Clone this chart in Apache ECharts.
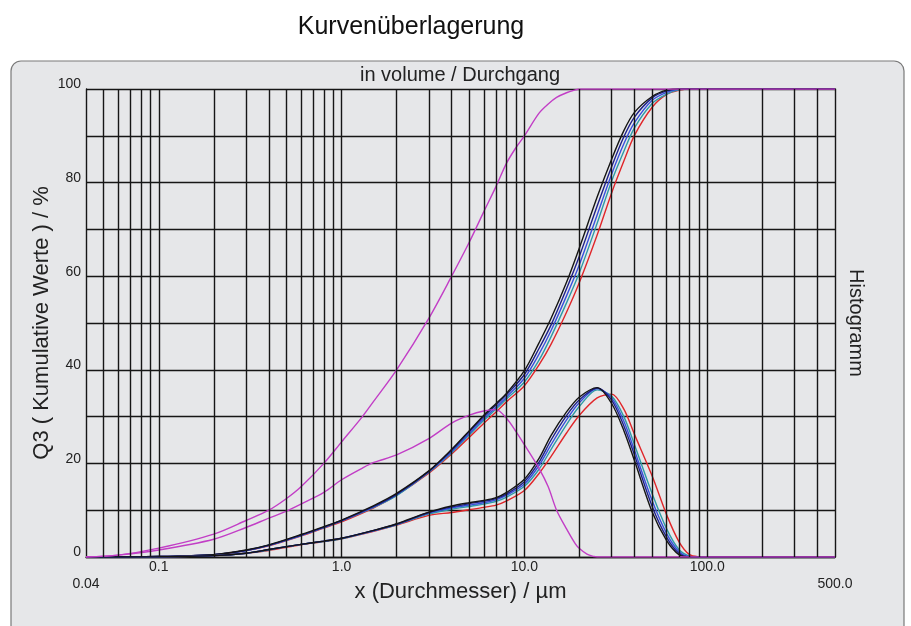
<!DOCTYPE html>
<html><head><meta charset="utf-8">
<script src="https://cdn.jsdelivr.net/npm/echarts@6/dist/echarts.min.js"></script>
<style>html,body{margin:0;padding:0;background:#fff}#c{width:911px;height:626px}</style>
</head><body><div id="c"></div>
<script>
// shared x grid (µm) for the five measurement curves
const xs = [0.04, 0.1, 0.2, 0.3, 0.4, 0.6, 0.8, 1, 1.5, 2, 3, 4, 5, 6, 7, 8, 10, 12, 14, 17, 20, 25, 30, 35, 40, 50, 60, 70, 80, 90, 100, 500];
// cumulative Q3 (%)
const cumBlack = [0, 0.1, 0.5, 1.5, 2.6, 4.8, 6.5, 7.9, 11.0, 13.6, 18.4, 23.0, 27.0, 30.3, 32.8, 35.0, 39.8, 45.7, 51.0, 58.7, 66.1, 76.9, 85.0, 91.1, 95.0, 98.4, 99.75, 100, 100, 100, 100, 100];
const cumNavy  = [0, 0.1, 0.5, 1.4, 2.5, 4.7, 6.4, 7.8, 10.8, 13.4, 18.3, 22.8, 26.8, 30.0, 32.5, 34.7, 39.0, 44.5, 49.6, 57.3, 64.3, 75.0, 83.4, 89.8, 94.0, 98.1, 99.6, 100, 100, 100, 100, 100];
const cumBlue  = [0, 0.1, 0.5, 1.4, 2.5, 4.6, 6.3, 7.7, 10.7, 13.3, 18.2, 22.5, 26.4, 29.6, 32.0, 34.2, 38.2, 43.3, 48.4, 55.8, 62.5, 73.1, 81.8, 88.3, 92.8, 97.6, 99.3, 99.95, 100, 100, 100, 100];
const cumTeal  = [0, 0.1, 0.5, 1.4, 2.5, 4.6, 6.3, 7.7, 10.6, 13.1, 18.1, 22.3, 26.1, 29.2, 31.6, 33.8, 37.4, 42.0, 47.1, 54.3, 60.8, 71.3, 80.3, 86.7, 91.7, 96.9, 98.9, 99.8, 100, 100, 100, 100];
const cumRed   = [0, 0.1, 0.5, 1.4, 2.4, 4.5, 6.2, 7.5, 10.5, 13.2, 17.9, 22.0, 25.6, 28.6, 31.0, 33.2, 36.6, 41.0, 45.5, 52.3, 58.7, 68.8, 77.8, 84.6, 90.1, 96.1, 98.85, 99.7, 100, 100, 100, 100];
// histogram (density) curves
const histBlack = [0, 0.05, 0.3, 0.8, 1.6, 2.7, 3.4, 4.0, 5.7, 7.1, 9.6, 10.9, 11.6, 12.1, 12.7, 13.8, 16.6, 21.0, 26.0, 31.0, 34.2, 36.2, 32.8, 27.0, 20.6, 9.6, 3.5, 0.5, 0, 0, 0, 0];
const histNavy  = [0, 0.05, 0.3, 0.8, 1.6, 2.7, 3.4, 4.0, 5.7, 7.0, 9.5, 10.7, 11.4, 11.9, 12.5, 13.5, 16.1, 20.2, 25.0, 30.2, 33.6, 36.1, 33.5, 28.0, 21.8, 10.8, 4.2, 0.8, 0, 0, 0, 0];
const histBlue  = [0, 0.05, 0.3, 0.8, 1.6, 2.7, 3.4, 4.0, 5.6, 7.0, 9.4, 10.5, 11.1, 11.6, 12.2, 13.2, 15.6, 19.5, 24.0, 29.3, 33.0, 36.0, 34.0, 29.0, 22.8, 12.0, 5.0, 1.2, 0.1, 0, 0, 0];
const histTeal  = [0, 0.05, 0.3, 0.8, 1.5, 2.7, 3.3, 3.9, 5.6, 6.9, 9.2, 10.2, 10.8, 11.3, 11.9, 12.8, 15.1, 18.7, 23.0, 28.3, 32.2, 35.7, 34.4, 30.0, 24.0, 13.5, 6.0, 1.6, 0.2, 0, 0, 0];
const histRed   = [0, 0.05, 0.3, 0.8, 1.4, 2.6, 3.3, 3.9, 5.5, 6.8, 8.9, 9.5, 10.1, 10.6, 11.1, 12.0, 14.2, 17.8, 21.5, 26.5, 30.3, 34.0, 34.8, 31.6, 26.2, 17.3, 9.0, 3.3, 0.5, 0.05, 0, 0];
// magenta (fine) sample
const magX    = [0.04, 0.06, 0.1, 0.2, 0.3, 0.4, 0.5, 0.6, 0.8, 1, 1.3, 1.5, 2, 3, 4, 5, 6, 7, 8, 9, 10, 12, 13.5, 15, 17, 19, 20, 22, 24, 25, 500];
const magCum  = [0, 0.4, 1.9, 4.9, 7.8, 10.0, 12.5, 15.0, 20.0, 24.6, 30.0, 33.3, 40.0, 51.0, 60.0, 67.3, 73.8, 79.2, 84.2, 87.5, 90.0, 94.8, 96.8, 98.2, 99.2, 99.8, 100, 100, 100, 100, 100];
const magHist = [0, 0.4, 1.5, 3.8, 6.3, 8.3, 9.8, 11.3, 13.8, 16.5, 19.0, 20.2, 21.8, 25.3, 28.6, 30.3, 31.2, 31.5, 29.6, 26.8, 24.0, 19.0, 15.0, 10.0, 6.0, 2.8, 1.8, 0.6, 0.1, 0, 0];
// axes
const gridX = [0.05,0.06,0.07,0.08,0.09,0.1,0.2,0.3,0.4,0.5,0.6,0.7,0.8,0.9,1,2,3,4,5,6,7,8,9,10,20,30,40,50,60,70,80,90,100,200,300,400];
const xTickValues = [0.04, 0.1, 1, 10, 100, 500];
const xTickLabels = ['0.04', '0.1', '1.0', '10.0', '100.0', '500.0'];
const yTickValues = [0, 20, 40, 60, 80, 100];

const FONT = '"Liberation Sans", Arial, sans-serif';
const TXT = '#222';
const GRIDC = '#161616';
function pairs(x, y) { return x.map((v, i) => [v, y[i]]); }

const curves = [
  { x: xs, y: cumRed, c: '#e0262a' }, { x: xs, y: cumTeal, c: '#2f9aa6' },
  { x: xs, y: cumBlue, c: '#3850dc' }, { x: xs, y: cumNavy, c: '#1e2088' },
  { x: xs, y: cumBlack, c: '#151515' },
  { x: xs, y: histRed, c: '#e0262a' }, { x: xs, y: histTeal, c: '#2f9aa6' },
  { x: xs, y: histBlue, c: '#3850dc' }, { x: xs, y: histNavy, c: '#1e2088' },
  { x: xs, y: histBlack, c: '#151515' },
  { x: magX, y: magCum, c: '#c23ec6' }, { x: magX, y: magHist, c: '#c23ec6' }
];

const series = [{
  type: 'line', data: [[0.04, 0]], symbol: 'none', lineStyle: { opacity: 0 }, z: 1, silent: true,
  markLine: {
    silent: true, animation: false, symbol: ['none', 'none'], label: { show: false },
    emphasis: { disabled: true },
    lineStyle: { color: GRIDC, width: 1.4, type: 'solid' },
    data: gridX.map(v => ({ xAxis: v }))
  }
}].concat(curves.map(s => ({
  type: 'line', data: pairs(s.x, s.y), symbol: 'none', showSymbol: false, smooth: 0.3,
  lineStyle: { color: s.c, width: 1.4 }, itemStyle: { color: s.c }, z: 3, silent: true
})));

function xLabel(v) {
  for (let i = 0; i < xTickValues.length; i++) {
    if (Math.abs(v - xTickValues[i]) / xTickValues[i] < 1e-6) {
      return (i === 0 || i === xTickValues.length - 1) ? '\n' + xTickLabels[i] : xTickLabels[i];
    }
  }
  return '';
}

const chart = echarts.init(document.getElementById('c'), null, { renderer: 'canvas' });
chart.setOption({
  animation: false,
  backgroundColor: '#ffffff',
  textStyle: { fontFamily: FONT },
  graphic: { elements: [
    { type: 'rect', z: -100, shape: { x: 11, y: 61, width: 893, height: 600, r: 10 },
      style: { fill: '#e6e7e9', stroke: '#7a7a7a', lineWidth: 1.2 } },
    { type: 'text', z: 10, style: { x: 411, y: 27, text: 'Kurvenüberlagerung', textAlign: 'center', textVerticalAlign: 'middle', font: '25px ' + FONT, fill: '#111' } },
    { type: 'text', z: 10, style: { x: 460, y: 75, text: 'in volume / Durchgang', textAlign: 'center', textVerticalAlign: 'middle', font: '20px ' + FONT, fill: TXT } }
  ] },
  grid: { left: 86, right: 76, top: 89, bottom: 69, containLabel: false },
  xAxis: {
    type: 'log', logBase: 10, min: 0.04, max: 500,
    axisLine: { show: true, lineStyle: { color: GRIDC, width: 1.4 } },
    axisTick: { show: false }, splitLine: { show: false }, minorSplitLine: { show: false },
    axisLabel: { formatter: xLabel, color: TXT, fontSize: 14, margin: 2, lineHeight: 17, fontFamily: FONT, showMinLabel: true, showMaxLabel: true },
    name: 'x (Durchmesser) / µm', nameLocation: 'middle', nameGap: 24, nameMoveOverlap: false,
    nameTextStyle: { fontSize: 22, color: TXT, fontFamily: FONT }
  },
  yAxis: [{
    type: 'value', min: 0, max: 100, interval: 10,
    axisLine: { show: true, lineStyle: { color: GRIDC, width: 1.4 } },
    axisTick: { show: false },
    splitLine: { show: true, lineStyle: { color: GRIDC, width: 1.4 } },
    axisLabel: {
      formatter: v => (yTickValues.indexOf(v) >= 0 ? '{a|' + v + '}' : ''),
      rich: { a: { fontSize: 14, color: TXT, fontFamily: FONT, padding: [0, 0, 9, 0] } },
      color: TXT, fontSize: 14, margin: 5, verticalAlign: 'middle', fontFamily: FONT
    },
    name: 'Q3 ( Kumulative Werte ) / %', nameLocation: 'middle', nameGap: 33, nameMoveOverlap: false,
    nameTextStyle: { fontSize: 22, color: TXT, fontFamily: FONT }
  }, {
    type: 'value', min: 0, max: 100, position: 'right',
    axisLine: { show: true, lineStyle: { color: GRIDC, width: 1.4 } },
    axisTick: { show: false }, axisLabel: { show: false }, splitLine: { show: false },
    name: 'Histogramm', nameLocation: 'middle', nameGap: 11, nameRotate: -90, nameMoveOverlap: false,
    nameTextStyle: { fontSize: 20, color: TXT, fontFamily: FONT }
  }],
  series: series
});
</script></body></html>
